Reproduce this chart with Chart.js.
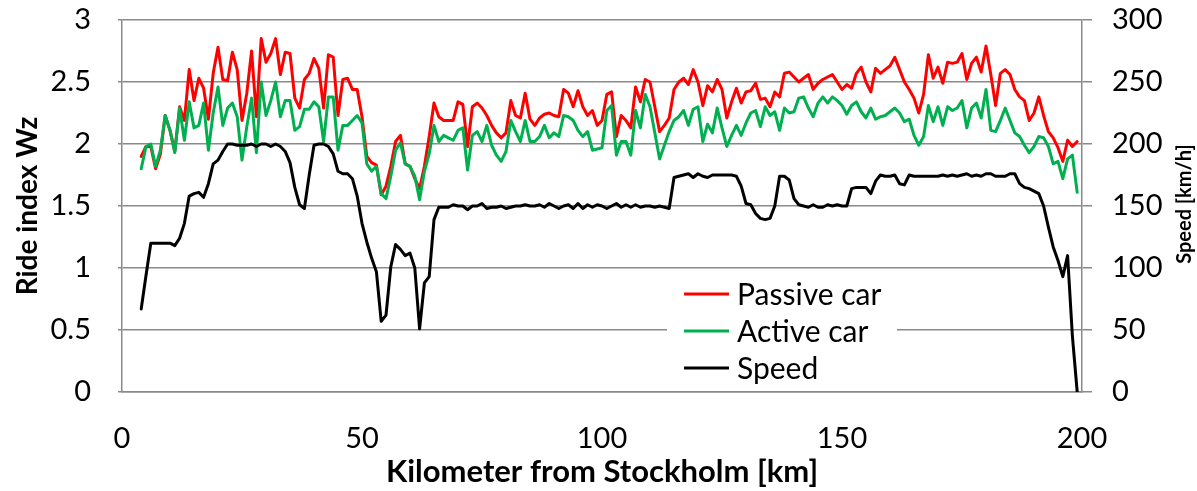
<!DOCTYPE html>
<html>
<head>
<meta charset="utf-8">
<script src="https://cdn.jsdelivr.net/npm/chart.js@4.4.1/dist/chart.umd.min.js"></script>
<style>
  html, body { margin: 0; padding: 0; background: #ffffff; }
  #wrap { width: 1197px; height: 491px; position: relative; }
</style>
</head>
<body>
<div id="wrap"><canvas id="chart"></canvas></div>
<script>
// Position along the line, km from Stockholm
const kilometers = [
  4,5,6,7,8,9,10,11,12,13,14,15,16,17,18,19,20,21,22,23,
  24,25,26,27,28,29,30,31,32,33,34,35,36,37,38,39,40,41,42,43,
  44,45,46,47,48,49,50,51,52,53,54,55,56,57,58,59,60,61,62,63,
  64,65,66,67,68,69,70,71,72,73,74,75,76,77,78,79,80,81,82,83,
  84,85,86,87,88,89,90,91,92,93,94,95,96,97,98,99,100,101,102,103,
  104,105,106,107,108,109,110,111,112,113,114,115,116,117,118,119,120,121,122,123,
  124,125,126,127,128,129,130,131,132,133,134,135,136,137,138,139,140,141,142,143,
  144,145,146,147,148,149,150,151,152,153,154,155,156,157,158,159,160,161,162,163,
  164,165,166,167,168,169,170,171,172,173,174,175,176,177,178,179,180,181,182,183,
  184,185,186,187,188,189,190,191,192,193,194,195,196,197,198,199
];

// Ride index Wz, passive suspension
const passiveCar = [
  1.90,1.98,1.98,1.80,1.92,2.23,2.11,1.94,2.30,2.19,
  2.60,2.35,2.53,2.45,2.20,2.57,2.78,2.52,2.51,2.74,
  2.60,2.19,2.41,2.75,2.22,2.85,2.66,2.73,2.85,2.56,
  2.74,2.73,2.37,2.29,2.52,2.57,2.69,2.61,2.29,2.72,
  2.70,2.23,2.52,2.53,2.44,2.44,2.22,1.90,1.85,1.83,
  1.59,1.66,1.82,2.02,2.07,1.84,1.82,1.72,1.64,1.82,
  2.06,2.33,2.22,2.19,2.19,2.19,2.34,2.32,1.98,2.30,
  2.33,2.29,2.23,2.15,2.09,2.05,2.09,2.35,2.23,2.21,
  2.41,2.20,2.15,2.21,2.24,2.25,2.23,2.22,2.44,2.41,
  2.30,2.43,2.30,2.23,2.27,2.15,2.19,2.40,2.42,2.06,
  2.23,2.19,2.13,2.46,2.34,2.52,2.50,2.30,2.10,2.15,
  2.21,2.44,2.50,2.53,2.48,2.60,2.50,2.31,2.47,2.42,
  2.52,2.44,2.21,2.34,2.45,2.33,2.42,2.43,2.49,2.36,
  2.37,2.30,2.42,2.38,2.57,2.58,2.54,2.50,2.53,2.56,
  2.44,2.49,2.52,2.54,2.56,2.50,2.44,2.48,2.45,2.57,
  2.62,2.50,2.42,2.61,2.57,2.60,2.63,2.70,2.60,2.50,
  2.44,2.37,2.25,2.40,2.72,2.53,2.62,2.49,2.66,2.65,
  2.66,2.73,2.52,2.65,2.70,2.58,2.79,2.56,2.31,2.57,
  2.60,2.56,2.44,2.38,2.35,2.19,2.25,2.38,2.23,2.10,
  2.05,1.97,1.86,2.03,1.98,2.02
];

// Ride index Wz, active suspension
const activeCar = [
  1.80,1.98,2.00,1.82,1.95,2.23,2.11,1.93,2.29,2.03,
  2.34,2.13,2.15,2.33,1.95,2.25,2.46,2.15,2.29,2.33,
  2.22,1.87,2.14,2.37,1.93,2.50,2.23,2.35,2.50,2.22,
  2.35,2.35,2.11,2.14,2.28,2.28,2.34,2.30,2.02,2.38,
  2.38,1.95,2.15,2.15,2.19,2.23,2.17,1.84,1.78,1.82,
  1.60,1.56,1.74,1.95,2.01,1.84,1.82,1.74,1.55,1.78,
  1.92,2.15,2.02,2.07,2.05,2.03,2.11,2.13,1.79,2.07,
  2.10,2.02,2.15,1.99,1.91,1.86,1.94,2.19,2.10,2.02,
  2.19,2.02,2.02,2.06,2.15,2.05,2.09,2.06,2.23,2.22,
  2.19,2.11,2.06,2.10,1.95,1.96,1.97,2.27,2.31,1.91,
  2.02,2.02,1.91,2.27,2.13,2.40,2.30,2.09,1.88,1.99,
  2.10,2.19,2.22,2.27,2.15,2.28,2.30,2.02,2.16,2.09,
  2.29,2.13,1.98,2.07,2.15,2.07,2.17,2.25,2.27,2.14,
  2.30,2.23,2.26,2.11,2.29,2.25,2.26,2.37,2.38,2.29,
  2.22,2.33,2.38,2.33,2.38,2.35,2.31,2.24,2.31,2.34,
  2.26,2.21,2.29,2.20,2.22,2.23,2.26,2.29,2.25,2.18,
  2.20,2.07,1.99,2.06,2.31,2.18,2.30,2.15,2.30,2.27,
  2.29,2.35,2.13,2.29,2.33,2.21,2.44,2.11,2.10,2.19,
  2.29,2.19,2.09,2.06,1.99,1.93,1.98,2.06,2.05,1.98,
  1.84,1.86,1.72,1.88,1.91,1.61
];

// Train speed, km/h
const speed = [
  67,94,120,120,120,120,120,118,124,136,
  158,160,161,157,168,184,187,194,200,200,
  199,199,199,200,198,200,200,198,200,198,
  194,185,165,151,148,175,199,200,200,198,
  192,178,176,176,172,158,136,121,108,97,
  57,62,101,119,115,110,112,100,51,88,
  93,139,149,149,149,151,150,150,147,150,
  150,152,148,149,149,150,148,149,150,150,
  151,150,150,151,149,152,150,148,150,151,
  148,152,148,151,149,151,150,148,150,152,
  149,151,149,151,149,150,150,149,150,149,
  148,173,174,175,176,173,176,174,173,175,
  175,175,175,175,174,166,152,151,144,140,
  139,140,150,174,174,171,156,151,150,149,
  151,149,149,151,150,151,150,150,164,165,
  165,165,160,170,175,174,174,175,168,167,
  175,174,174,174,174,174,174,175,174,175,
  174,175,176,174,175,174,176,176,174,174,
  174,176,176,168,165,164,162,160,150,133,
  117,106,93,110,45,0
];

const seriesLabels = ['Passive car', 'Active car', 'Speed'];
const seriesColors = ['#FF0000', '#00B050', '#000000'];

const FONT = 'Lato, "Open Sans", "DejaVu Sans", sans-serif';
const GRID = '#8a8a8a';

const toPoints = (values) => kilometers.map((km, i) => ({ x: km, y: values[i] }));

function lineSet(idx, values, axis, order) {
  return {
    label: seriesLabels[idx],
    data: toPoints(values),
    yAxisID: axis,
    borderColor: seriesColors[idx],
    backgroundColor: seriesColors[idx],
    borderWidth: 3,
    borderJoinStyle: 'round',
    borderCapStyle: 'round',
    pointRadius: 0,
    tension: 0,
    fill: false,
    order: order
  };
}

// Vertical axes: fixed width, no extra padding for half-height labels
function fixVertical(width) {
  return function (scale) {
    scale.width = width;
    scale.paddingTop = 0;
    scale.paddingBottom = 0;
  };
}

// Legend drawn inside the plot area, on a white box
const insideLegend = {
  id: 'insideLegend',
  afterDatasetsDraw(chart) {
    const { ctx } = chart;
    const box = { left: 667, top: 276, width: 230, height: 110 };
    const rows = [294, 331, 368];
    ctx.save();
    ctx.fillStyle = '#ffffff';
    ctx.fillRect(box.left, box.top, box.width, box.height);
    chart.data.datasets.forEach((ds, i) => {
      const y = rows[i];
      ctx.strokeStyle = ds.borderColor;
      ctx.lineWidth = 3;
      ctx.beginPath();
      ctx.moveTo(684, y);
      ctx.lineTo(729, y);
      ctx.stroke();
      ctx.fillStyle = '#000000';
      ctx.font = '30px ' + FONT;
      ctx.textAlign = 'left';
      ctx.textBaseline = 'middle';
      ctx.fillText(ds.label, 737, y + 1);
    });
    ctx.restore();
  }
};

// Secondary axis title, reading bottom-to-top
const speedTitle = {
  id: 'speedTitle',
  afterDraw(chart) {
    const { ctx } = chart;
    ctx.save();
    ctx.translate(1185, 204);
    ctx.rotate(-Math.PI / 2);
    ctx.fillStyle = '#000000';
    ctx.font = 'bold 20px ' + FONT;
    ctx.textAlign = 'center';
    ctx.textBaseline = 'middle';
    ctx.fillText('Speed [km/h]', 0, 0);
    ctx.restore();
  }
};

const plainNumber = (value) => String(value);

new Chart(document.getElementById('chart'), {
  type: 'line',
  data: {
    datasets: [
      lineSet(0, passiveCar, 'y', 2),
      lineSet(1, activeCar, 'y', 1),
      lineSet(2, speed, 'y1', 0)
    ]
  },
  options: {
    responsive: true,
    maintainAspectRatio: false,
    animation: false,
    layout: { padding: { top: 20, left: 0, right: 0, bottom: 0 } },
    plugins: { legend: { display: false }, tooltip: { enabled: false } },
    scales: {
      x: {
        type: 'linear',
        min: 0,
        max: 200,
        ticks: { stepSize: 50, color: '#000', font: { family: FONT, size: 29 }, padding: 29, maxRotation: 0, callback: plainNumber },
        grid: { display: false, drawTicks: false },
        border: { display: true, color: GRID, width: 1.5 },
        title: {
          display: true,
          text: 'Kilometer from Stockholm [km]',
          color: '#000',
          font: { family: FONT, size: 31, weight: 'bold' },
          padding: { top: 0, bottom: 0 }
        },
        afterFit(scale) { scale.height = 99; scale.paddingLeft = 0; scale.paddingRight = 0; }
      },
      y: {
        position: 'left',
        min: 0,
        max: 3,
        ticks: { stepSize: 0.5, color: '#000', font: { family: FONT, size: 29 }, padding: 27, callback: plainNumber },
        grid: { color: GRID, lineWidth: 1.5, tickLength: 4 },
        border: { display: true, color: GRID, width: 1.5 },
        title: {
          display: true,
          text: 'Ride index Wz',
          color: '#000',
          font: { family: FONT, size: 28, weight: 'bold' },
          padding: { top: 11, bottom: 0 }
        },
        afterFit: fixVertical(122)
      },
      y1: {
        position: 'right',
        min: 0,
        max: 300,
        ticks: { stepSize: 50, color: '#000', font: { family: FONT, size: 29 }, padding: 20, callback: plainNumber },
        grid: { drawOnChartArea: false, color: GRID, lineWidth: 1.5, tickLength: 10 },
        border: { display: true, color: GRID, width: 1.5 },
        afterFit: fixVertical(115)
      }
    }
  },
  plugins: [insideLegend, speedTitle]
});
</script>
</body>
</html>
